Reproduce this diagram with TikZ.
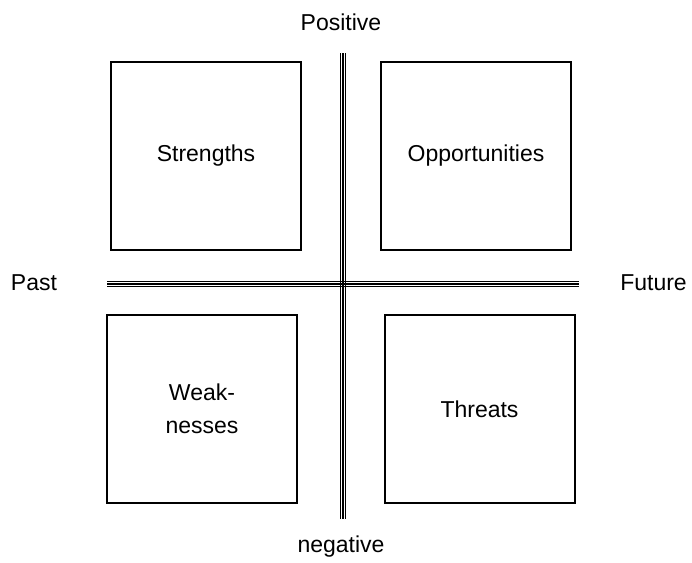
\documentclass[tikz,border=0pt]{standalone}
\usepackage{fontspec}
\setmainfont{Liberation Sans}
\usetikzlibrary{positioning}

\tikzset{
  quad/.style={draw, line width=2pt, minimum width=190pt, minimum height=188pt,
    inner sep=0pt, align=center},
  axis/.style={line width=1.3pt},
  lbl/.style={inner sep=0pt, anchor=center},
}

\begin{document}
\begin{tikzpicture}[x=1pt, y=-1pt, font=\fontsize{23}{33}\selectfont]
          \useasboundingbox (0,0) rectangle (692,562);

          \coordinate (top) at (343,53);
          \coordinate (bot) at (343,519);
          \coordinate (left) at (107,284);
          \coordinate (right) at (579,284);

          % triple axis lines
          \foreach \d in {-2.7,0,2.7} {
            \draw[axis] ([xshift=\d pt]top) -- ([xshift=\d pt]bot);
            \draw[axis] ([yshift=\d pt]left) -- ([yshift=\d pt]right);
          }

          \node[quad] (str) at (206,156) {Strengths};
          \node[quad] (opp) at (476,156) {Opportunities};
          \node[quad] (weak) at (202,409) {Weak-\\nesses};
          \node[quad] (thr) at (479.5,409) {Threats};

          \node[lbl] (pos) at (341,22) {Positive};
          \node[lbl] (neg) at (341,547) {negative};
          \node[lbl] (past) at (34,283) {Past};
          \node[lbl] (fut) at (653.5,283) {Future};

          \end{tikzpicture}
\end{document}
